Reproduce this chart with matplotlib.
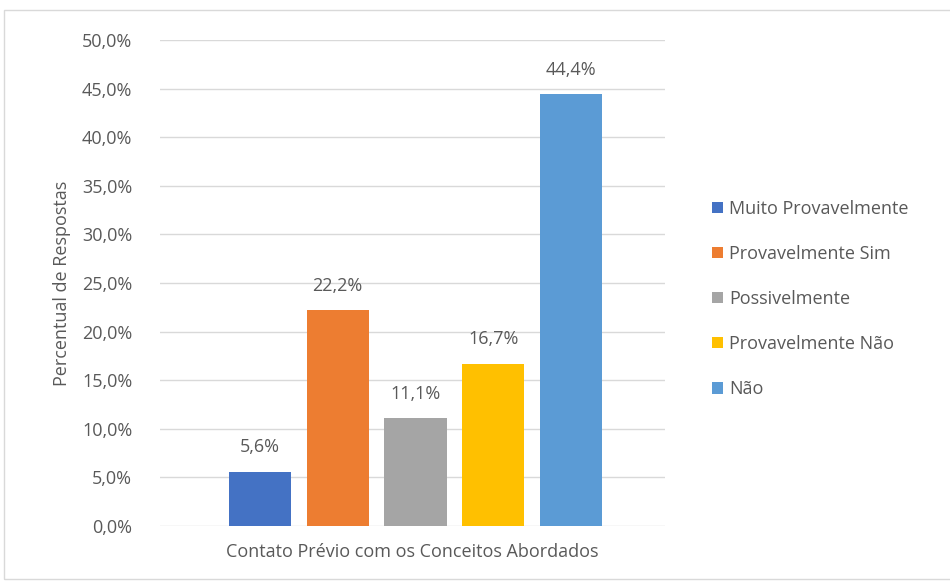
import matplotlib.pyplot as plt
from matplotlib.patches import Rectangle

categories = ['Muito Provavelmente', 'Provavelmente Sim', 'Possivelmente',
              'Provavelmente Não', 'Não']
values = [5.6, 22.2, 11.1, 16.7, 44.4]
colors = ['#4472C4', '#ED7D31', '#A5A5A5', '#FFC000', '#5B9BD5']
yticks = [0, 5, 10, 15, 20, 25, 30, 35, 40, 45, 50]

plt.rcParams['font.family'] = ['Open Sans', 'DejaVu Sans']
grey = '#595959'
fs = 13

fig = plt.figure(figsize=(9.5, 5.82), dpi=100)
ax = fig.add_axes([160/950, 1 - 526/582, 505/950, 486/582])

handles = []
for i, (c, v, col) in enumerate(zip(categories, values, colors)):
    b = ax.bar(i, v, width=0.8, color=col, label=c, zorder=3)
    handles.append(b)
    ax.annotate(f'{v:.1f}%'.replace('.', ','), (i, v), xytext=(0, 11),
                textcoords='offset points', ha='center', va='bottom',
                fontsize=fs, color=grey)

ax.set_xlim(-1.286, 5.21)
ax.set_ylim(0, 50)
ax.set_yticks(yticks)
ax.set_yticklabels([f'{t:.1f}%'.replace('.', ',') for t in yticks],
                   fontsize=fs, color=grey)
ax.set_xticks([])
ax.grid(axis='y', color='#D9D9D9', linewidth=1, zorder=0)
ax.tick_params(axis='y', length=0, pad=20)
for s in ax.spines.values():
    s.set_visible(False)

ax.set_ylabel('Percentual de Respostas', fontsize=fs, color=grey, labelpad=8)
ax.set_xlabel('Contato Prévio com os Conceitos Abordados', fontsize=fs,
              color=grey, labelpad=12)

fig.legend(handles=handles, loc='center left', bbox_to_anchor=(696/950, 1 - 299/582),
           frameon=False, fontsize=fs, labelcolor=grey, handlelength=0.6,
           handleheight=0.6, handletextpad=0.35, labelspacing=1.5)

fig.patches.append(Rectangle((4/950, 3/582), 1.2, 1 - 13/582,
                             transform=fig.transFigure, fill=False,
                             edgecolor='#D9D9D9', linewidth=1))

fig.savefig('out.png', dpi=100)
